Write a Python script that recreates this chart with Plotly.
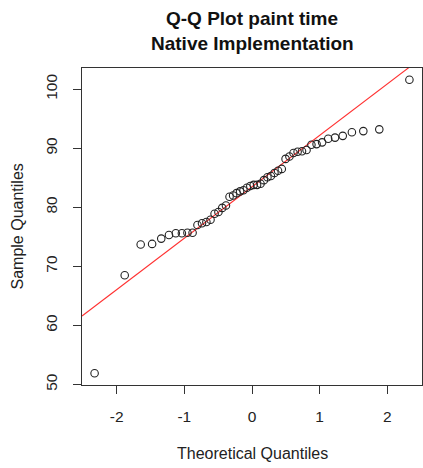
import numpy as np
import plotly.graph_objects as go

# Theoretical normal quantiles (qnorm of ppoints(50))
theoretical = [-2.326, -1.881, -1.645, -1.476, -1.341, -1.227, -1.126, -1.036, -0.954, -0.878,
               -0.806, -0.739, -0.674, -0.613, -0.553, -0.496, -0.440, -0.385, -0.332, -0.279,
               -0.228, -0.176, -0.126, -0.075, -0.025, 0.025, 0.075, 0.126, 0.176, 0.228,
               0.279, 0.332, 0.385, 0.440, 0.496, 0.553, 0.613, 0.674, 0.739, 0.806,
               0.878, 0.954, 1.036, 1.126, 1.227, 1.341, 1.476, 1.645, 1.881, 2.326]

# Sorted sample values (paint time)
sample = [51.9, 68.5, 73.7, 73.8, 74.7, 75.3, 75.6, 75.6, 75.7, 75.7,
          77.0, 77.3, 77.5, 77.9, 78.9, 79.2, 79.9, 80.3, 81.8, 82.0,
          82.4, 82.7, 82.9, 83.3, 83.6, 83.8, 83.8, 84.0, 84.6, 85.1,
          85.3, 85.8, 86.2, 86.5, 88.2, 88.6, 89.2, 89.4, 89.5, 89.7,
          90.6, 90.7, 91.0, 91.6, 91.8, 92.1, 92.7, 92.9, 93.2, 101.6]

x_ticks = [-2, -1, 0, 1, 2]
x_tick_labels = ["-2", "-1", "0", "1", "2"]
y_ticks = [50, 60, 70, 80, 90, 100]
y_tick_labels = ["50", "60", "70", "80", "90", "100"]

title_lines = ["Q-Q Plot paint time", "Native Implementation"]
x_label = "Theoretical Quantiles"
y_label = "Sample Quantiles"

# qqline: through first and third quartiles
q1, q3 = np.quantile(sample, [0.25, 0.75])
z1, z3 = -0.6745, 0.6745
slope = (q3 - q1) / (z3 - z1)
intercept = q1 - slope * z1

# R-style 4% axis padding
xmin, xmax = min(theoretical), max(theoretical)
ymin, ymax = min(sample), max(sample)
xpad = 0.04 * (xmax - xmin)
ypad = 0.04 * (ymax - ymin)
xr = [xmin - xpad, xmax + xpad]
yr = [ymin - ypad, ymax + ypad]

FONT = "Liberation Sans, Arial, Helvetica, sans-serif"

fig = go.Figure()
fig.add_trace(go.Scatter(
    x=xr, y=[intercept + slope * v for v in xr], mode="lines",
    line=dict(color="#ff3030", width=1.1), hoverinfo="skip", showlegend=False))
fig.add_trace(go.Scatter(
    x=theoretical, y=sample, mode="markers",
    marker=dict(symbol="circle-open", size=7.5, color="#222222", line=dict(width=1.1, color="#222222")),
    showlegend=False))

axis_common = dict(
    showgrid=False, zeroline=False, showline=True, mirror=True,
    linecolor="#333333", linewidth=1, ticks="outside", ticklen=8,
    tickcolor="#333333", tickwidth=1,
    tickfont=dict(family=FONT, size=15.5, color="#222222"),
)

fig.update_layout(
    width=423, height=468,
    margin=dict(l=82, r=1, t=68, b=83),
    paper_bgcolor="white", plot_bgcolor="white",
    xaxis=dict(range=xr, tickvals=x_ticks, ticktext=x_tick_labels, ticklabelstandoff=9, **axis_common),
    yaxis=dict(range=yr, tickvals=y_ticks, ticktext=y_tick_labels, tickangle=-90,
               ticklabelstandoff=10, **axis_common),
    annotations=[
        dict(text="<b>" + title_lines[0] + "</b>", x=0.5, y=1, xref="paper", yref="paper",
             showarrow=False, yshift=50, xanchor="center", yanchor="middle",
             font=dict(family=FONT, size=19, color="#111111")),
        dict(text="<b>" + title_lines[1] + "</b>", x=0.5, y=1, xref="paper", yref="paper",
             showarrow=False, yshift=25, xanchor="center", yanchor="middle",
             font=dict(family=FONT, size=19, color="#111111")),
        dict(text=x_label, x=0.5, y=0, xref="paper", yref="paper", showarrow=False,
             yshift=-68, xanchor="center", yanchor="middle",
             font=dict(family=FONT, size=16, color="#222222")),
        dict(text=y_label, x=0, y=0.5, xref="paper", yref="paper", showarrow=False,
             xshift=-65, textangle=-90, xanchor="center", yanchor="middle",
             font=dict(family=FONT, size=16, color="#222222")),
    ],
)

fig.write_html("out.html")
